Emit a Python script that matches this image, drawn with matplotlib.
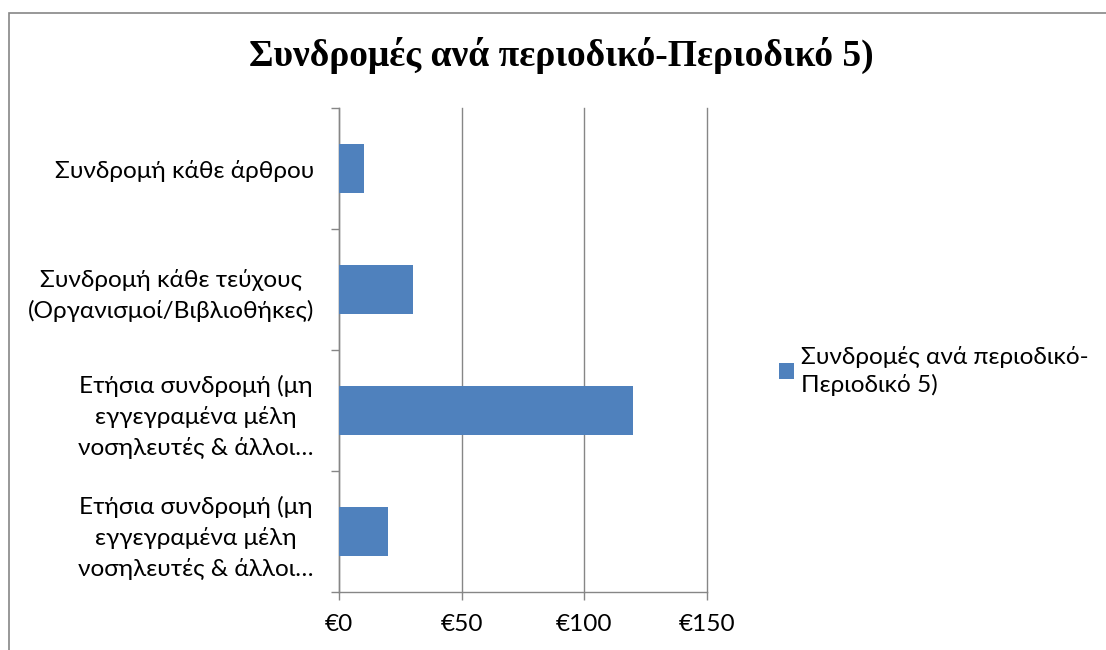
import matplotlib.pyplot as plt
from matplotlib.patches import Rectangle

# data (top to bottom as shown in the chart)
categories = [
    'Συνδρομή κάθε άρθρου',
    'Συνδρομή κάθε τεύχους\n(Οργανισμοί/Βιβλιοθήκες)',
    'Ετήσια συνδρομή (μη\nεγγεγραμένα μέλη\nνοσηλευτές & άλλοι…',
    'Ετήσια συνδρομή (μη\nεγγεγραμένα μέλη\nνοσηλευτές & άλλοι…',
]
values = [10, 30, 120, 20]
x_ticks = [0, 50, 100, 150]
x_tick_labels = ['€0', '€50', '€100', '€150']
series_name = 'Συνδρομές ανά περιοδικό-\nΠεριοδικό 5)'
title = 'Συνδρομές ανά περιοδικό-Περιοδικό 5)'

plt.rcParams['font.family'] = ['Lato', 'DejaVu Sans']
grey = '#868686'
fs = 17.6

fig = plt.figure(figsize=(11.06, 6.5), dpi=100)
ax = fig.add_axes([339 / 1106, 1 - 592 / 650, 368 / 1106, 484 / 650])

pos = list(range(len(categories)))
ax.barh(pos, values, height=0.4, color='#4F81BD', zorder=3, label=series_name)
ax.set_ylim(len(categories) - 0.5, -0.5)
ax.set_xlim(0, 150)

ax.set_xticks(x_ticks)
ax.set_xticklabels(x_tick_labels, fontsize=fs)
ax.set_yticks(pos)
ax.set_yticklabels(categories, fontsize=fs, multialignment='center',
                   linespacing=1.48)
ax.tick_params(axis='y', length=0, pad=18)
ax.set_yticks([p - 0.5 for p in pos] + [len(pos) - 0.5], minor=True)
ax.tick_params(axis='y', which='minor', length=6, color=grey, width=1)
ax.tick_params(axis='x', length=6, color=grey, width=1, pad=10)

ax.xaxis.grid(True, color=grey, linewidth=1, zorder=0)
for line in ax.get_xgridlines():
    line.set_clip_on(False)
for side in ['top', 'right']:
    ax.spines[side].set_visible(False)
for side in ['left', 'bottom']:
    ax.spines[side].set_color(grey)
    ax.spines[side].set_linewidth(1)

fig.text(561 / 1106, 1 - 55 / 650, title, ha='center', va='center',
         fontsize=27, fontweight='bold', family='Liberation Serif')

leg = ax.legend(loc='center left', bbox_to_anchor=(757 / 1106, 1 - 371 / 650),
                bbox_transform=fig.transFigure, frameon=False, fontsize=fs,
                handlelength=0.6, handleheight=0.6, handletextpad=0.3)
for t in leg.get_texts():
    t.set_linespacing(1.35)

# outer chart border (cropped at right and bottom)
fig.patches.append(Rectangle((8.5 / 1106, -0.1), 1.2, 1 - 12.5 / 650 + 0.1,
                             transform=fig.transFigure, fill=False,
                             edgecolor=grey, linewidth=1.2))

fig.savefig('out.png', dpi=100)
